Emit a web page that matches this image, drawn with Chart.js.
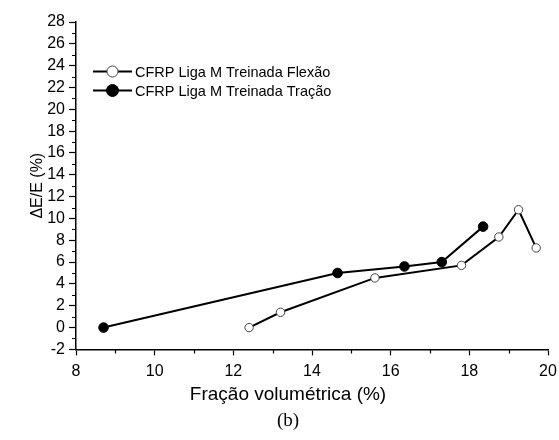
<!DOCTYPE html>
<html><head><meta charset="utf-8">
<script src="https://cdn.jsdelivr.net/npm/chart.js@4/dist/chart.umd.min.js"></script>
<style>html,body{margin:0;padding:0;background:#fff;}</style>
</head><body>
<canvas id="c" width="559" height="440"></canvas>
<script>
// ---- data ----
const seriesNames = ['CFRP Liga M Treinada Flexão', 'CFRP Liga M Treinada Tração'];
const flexaoX = [12.4, 13.2, 15.6, 17.8, 18.75, 19.25, 19.7];
const flexaoY = [0, 1.4, 4.55, 5.7, 8.3, 10.8, 7.3];
const tracaoX = [8.7, 14.65, 16.35, 17.3, 18.35];
const tracaoY = [0, 5.0, 5.6, 6.0, 9.25];
const xTickValues = [8, 10, 12, 14, 16, 18, 20];
const xMinorValues = [9, 11, 13, 15, 17, 19];
const yTickValues = [-2, 0, 2, 4, 6, 8, 10, 12, 14, 16, 18, 20, 22, 24, 26, 28];
const yMinorValues = [-1, 1, 3, 5, 7, 9, 11, 13, 15, 17, 19, 21, 23, 25, 27];
const xTitle = 'Fração volumétrica (%)';
const yTitle = 'ΔE/E (%)';
const figLabel = '(b)';

const toPts = (xs, ys) => xs.map((x, i) => ({x: x, y: ys[i]}));
const SANS = "'Liberation Sans', Arial, sans-serif";

const minorTicks = {
  id: 'minorTicks',
  afterDraw(chart) {
    const ctx = chart.ctx, xs = chart.scales.x, ys = chart.scales.y;
    const a = chart.chartArea;
    ctx.save();
    ctx.strokeStyle = '#000';
    ctx.lineWidth = 1.2;
    ctx.beginPath();
    xMinorValues.forEach(v => {
      const p = Math.round(xs.getPixelForValue(v)) + 0.5;
      ctx.moveTo(p, a.bottom); ctx.lineTo(p, a.bottom + 4);
    });
    yMinorValues.forEach(v => {
      const p = Math.round(ys.getPixelForValue(v)) + 0.5;
      ctx.moveTo(a.left, p); ctx.lineTo(a.left - 4, p);
    });
    ctx.stroke();
    ctx.restore();
  }
};

const innerLegend = {
  id: 'innerLegend',
  afterDraw(chart) {
    const ctx = chart.ctx;
    const x0 = 93, len = 39, y0 = 71.5, dy = 19;
    ctx.save();
    chart.data.datasets.forEach((ds, i) => {
      const y = y0 + i * dy;
      ctx.strokeStyle = '#000';
      ctx.lineWidth = 2;
      ctx.beginPath(); ctx.moveTo(x0, y); ctx.lineTo(x0 + len, y); ctx.stroke();
      ctx.beginPath();
      ctx.arc(x0 + 19.5, y, i === 0 ? 5.5 : 6, 0, Math.PI * 2);
      ctx.fillStyle = ds.pointBackgroundColor;
      ctx.fill();
      ctx.lineWidth = 1;
      ctx.strokeStyle = ds.pointBorderColor;
      ctx.stroke();
      ctx.fillStyle = '#000';
      ctx.font = '14.5px ' + SANS;
      ctx.textBaseline = 'middle';
      ctx.textAlign = 'left';
      ctx.fillText(ds.label, x0 + len + 3, y + 1);
    });
    ctx.restore();
  }
};

new Chart(document.getElementById('c'), {
  type: 'line',
  data: {
    datasets: [
      {
        label: seriesNames[0],
        data: toPts(flexaoX, flexaoY),
        borderColor: '#000', borderWidth: 2,
        pointBackgroundColor: '#fff', pointBorderColor: '#444',
        pointBorderWidth: 1, pointRadius: 4.2, tension: 0
      },
      {
        label: seriesNames[1],
        data: toPts(tracaoX, tracaoY),
        borderColor: '#000', borderWidth: 2,
        pointBackgroundColor: '#000', pointBorderColor: '#000',
        pointBorderWidth: 1, pointRadius: 4.8, tension: 0
      }
    ]
  },
  options: {
    responsive: false,
    animation: false,
    devicePixelRatio: 1,
    layout: { padding: { left: 17, right: 0, top: 22, bottom: 8 } },
    plugins: {
      legend: { display: false },
      tooltip: { enabled: false },
      subtitle: {
        display: true, position: 'bottom', text: xTitle, color: '#000',
        font: { family: SANS, size: 19, weight: 'normal' },
        padding: { top: 4, bottom: 0 }
      },
      title: {
        display: true, position: 'bottom', text: figLabel, color: '#000',
        font: { family: "'Liberation Serif', 'Times New Roman', serif", size: 19, weight: 'normal' },
        padding: { top: 3, bottom: 0 }
      }
    },
    scales: {
      x: {
        type: 'linear', min: 8, max: 20,
        afterBuildTicks: s => { s.ticks = xTickValues.map(v => ({value: v})); },
        afterFit: s => { s.paddingRight = 11; s.height = 30; },
        border: { display: true, color: '#000', width: 1.5 },
        grid: { drawOnChartArea: false, drawTicks: true, tickLength: 6, tickColor: '#000', tickWidth: 1.2 },
        ticks: { color: '#000', padding: 7, maxRotation: 0, autoSkip: false, font: { family: SANS, size: 16 } }
      },
      y: {
        type: 'linear', min: -2, max: 28,
        afterBuildTicks: s => { s.ticks = yTickValues.map(v => ({value: v})); },
        afterFit: s => { s.width = 59; },
        border: { display: true, color: '#000', width: 1.5 },
        grid: { drawOnChartArea: false, drawTicks: true, tickLength: 7, tickColor: '#000', tickWidth: 1.2 },
        ticks: { color: '#000', padding: 4, autoSkip: false, font: { family: SANS, size: 16 } },
        title: {
          display: true, text: yTitle, color: '#000',
          font: { family: SANS, size: 16 }, padding: { top: 11, bottom: 0 }
        }
      }
    }
  },
  plugins: [minorTicks, innerLegend]
});
</script>
</body></html>
